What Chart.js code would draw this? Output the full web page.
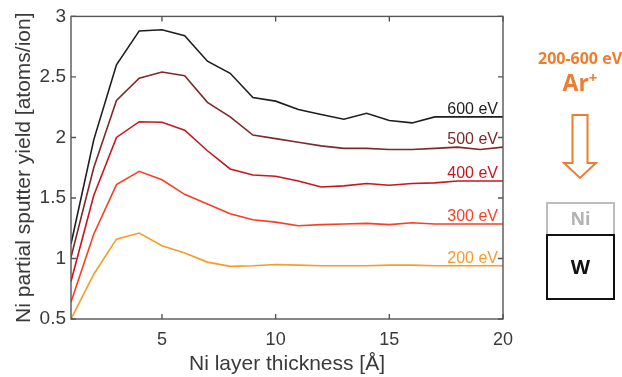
<!DOCTYPE html>
<html>
<head>
<meta charset="utf-8">
<script src="https://cdn.jsdelivr.net/npm/chart.js@4"></script>
<style>
  html, body { margin: 0; padding: 0; background: #ffffff; }
  #c { display: block; }
</style>
</head>
<body>
<canvas id="c" width="622" height="377"></canvas>
<script>
// Ni layer thickness (Å) and partial sputter yield (atoms/ion) per Ar+ energy
const thickness = [1, 2, 3, 4, 5, 6, 7, 8, 9, 10, 11, 12, 13, 14, 15, 16, 17, 18, 19, 20];
const yield600 = [1.12, 1.98, 2.60, 2.88, 2.89, 2.84, 2.63, 2.53, 2.33, 2.30, 2.23, 2.19, 2.15, 2.20, 2.14, 2.12, 2.17, 2.17, 2.17, 2.17];
const yield500 = [1.01, 1.75, 2.305, 2.49, 2.54, 2.51, 2.29, 2.17, 2.02, 1.99, 1.96, 1.93, 1.91, 1.91, 1.90, 1.90, 1.91, 1.92, 1.90, 1.92];
const yield400 = [0.81, 1.52, 2.00, 2.13, 2.125, 2.06, 1.89, 1.74, 1.69, 1.68, 1.64, 1.59, 1.60, 1.62, 1.605, 1.62, 1.625, 1.64, 1.64, 1.64];
const yield300 = [0.64, 1.20, 1.61, 1.72, 1.65, 1.53, 1.45, 1.37, 1.32, 1.30, 1.27, 1.28, 1.285, 1.29, 1.28, 1.295, 1.285, 1.285, 1.285, 1.285];
const yield200 = [0.50, 0.87, 1.16, 1.21, 1.105, 1.045, 0.97, 0.935, 0.94, 0.95, 0.945, 0.94, 0.94, 0.94, 0.945, 0.945, 0.94, 0.94, 0.94, 0.94];
const energyLabels = ['600 eV', '500 eV', '400 eV', '300 eV', '200 eV'];
const xTickValues = [5, 10, 15, 20];
const yTickValues = [0.5, 1, 1.5, 2, 2.5, 3];

const FONT = "'Liberation Sans', Arial, Helvetica, sans-serif";
const SKETCH_FONT = "'Open Sans', Lato, sans-serif";
const AXIS_COLOR = '#555555';
const TEXT_COLOR = '#3a3a3a';

const series = [yield600, yield500, yield400, yield300, yield200];
const colors = ['#1e1e1e', '#7d2a2a', '#c8161e', '#fb3e22', '#fb9a25'];

const datasets = series.map((vals, i) => ({
  label: energyLabels[i],
  data: thickness.map((t, k) => ({ x: t, y: vals[k] })),
  borderColor: colors[i],
  backgroundColor: colors[i],
  borderWidth: 1.6,
  pointRadius: 0,
  tension: 0,
  fill: false
}));

// Box frame with inward ticks on all four sides, plus end-of-line energy labels
const framePlugin = {
  id: 'frame',
  afterDatasetsDraw(chart) {
    const { ctx, chartArea: a, scales } = chart;
    const xs = scales.x, ys = scales.y;
    ctx.save();
    ctx.strokeStyle = AXIS_COLOR;
    ctx.lineWidth = 1.4;
    ctx.strokeRect(a.left, a.top, a.right - a.left, a.bottom - a.top);
    const tl = 5;
    ctx.beginPath();
    xTickValues.forEach(v => {
      const px = xs.getPixelForValue(v);
      ctx.moveTo(px, a.bottom); ctx.lineTo(px, a.bottom - tl);
      ctx.moveTo(px, a.top); ctx.lineTo(px, a.top + tl);
    });
    yTickValues.forEach(v => {
      const py = ys.getPixelForValue(v);
      ctx.moveTo(a.left, py); ctx.lineTo(a.left + tl, py);
      ctx.moveTo(a.right, py); ctx.lineTo(a.right - tl, py);
    });
    ctx.stroke();

    // energy labels just above each curve's right end
    ctx.font = '16px ' + FONT;
    ctx.textAlign = 'right';
    ctx.textBaseline = 'alphabetic';
    chart.data.datasets.forEach((ds, i) => {
      const last = ds.data[ds.data.length - 1];
      ctx.fillStyle = colors[i];
      ctx.fillText(ds.label, a.right - 5, ys.getPixelForValue(last.y) - 3);
    });
    ctx.restore();
  },
  afterDraw(chart) {
    // ion beam and Ni/W stack sketch on the right
    const ctx = chart.ctx;
    const orange = '#ed7d31';
    ctx.save();
    ctx.fillStyle = orange;
    ctx.textAlign = 'center';
    ctx.textBaseline = 'middle';
    ctx.font = 'bold 16px ' + SKETCH_FONT;
    ctx.fillText('200-600 eV', 580, 59);
    ctx.textAlign = 'left';
    ctx.textBaseline = 'alphabetic';
    ctx.font = 'bold 23px ' + SKETCH_FONT;
    const arW = ctx.measureText('Ar').width;
    ctx.font = 'bold 15px ' + SKETCH_FONT;
    const plusW = ctx.measureText('+').width;
    const arX = 580 - (arW + plusW) / 2;
    ctx.font = 'bold 23px ' + SKETCH_FONT;
    ctx.fillText('Ar', arX, 91);
    ctx.font = 'bold 15px ' + SKETCH_FONT;
    ctx.fillText('+', arX + arW, 83);

    // hollow arrow pointing down
    ctx.strokeStyle = orange;
    ctx.lineWidth = 2;
    ctx.lineJoin = 'miter';
    ctx.beginPath();
    ctx.moveTo(572.5, 115);
    ctx.lineTo(587.5, 115);
    ctx.lineTo(587.5, 163);
    ctx.lineTo(596, 163);
    ctx.lineTo(580, 178);
    ctx.lineTo(564, 163);
    ctx.lineTo(572.5, 163);
    ctx.closePath();
    ctx.stroke();

    // Ni layer
    ctx.textAlign = 'center';
    ctx.textBaseline = 'middle';
    ctx.strokeStyle = '#bdbdbd';
    ctx.lineWidth = 2;
    ctx.strokeRect(547, 203, 67, 32);
    ctx.fillStyle = '#b3b3b3';
    ctx.font = 'bold 18px ' + SKETCH_FONT;
    ctx.fillText('Ni', 580.5, 220);
    // W substrate
    ctx.strokeStyle = '#111111';
    ctx.strokeRect(547, 235, 67, 64);
    ctx.fillStyle = '#111111';
    ctx.font = 'bold 20px ' + SKETCH_FONT;
    ctx.fillText('W', 580.5, 268);
    ctx.restore();
  }
};

new Chart(document.getElementById('c'), {
  type: 'line',
  data: { datasets },
  options: {
    responsive: false,
    devicePixelRatio: 1,
    animation: false,
    layout: { padding: { top: 14, right: 119, left: 12, bottom: 0 } },
    plugins: { legend: { display: false }, tooltip: { enabled: false } },
    scales: {
      x: {
        type: 'linear',
        min: 1,
        max: 20,
        afterBuildTicks: s => { s.ticks = xTickValues.map(v => ({ value: v })); },
        afterFit: s => { s.height = 58; },
        grid: { display: false, drawTicks: false },
        border: { display: false },
        ticks: { padding: 10, color: TEXT_COLOR, font: { family: FONT, size: 18 }, maxRotation: 0 },
        title: { display: true, text: 'Ni layer thickness [Å]', color: TEXT_COLOR, font: { family: FONT, size: 21 }, padding: { top: 0, bottom: 0 } }
      },
      y: {
        type: 'linear',
        min: 0.5,
        max: 3,
        afterBuildTicks: s => { s.ticks = yTickValues.map(v => ({ value: v })); },
        afterFit: s => { s.width = 59; },
        grid: { display: false, drawTicks: false },
        border: { display: false },
        ticks: {
          padding: 5,
          color: TEXT_COLOR,
          font: { family: FONT, size: 19 },
          callback: v => String(Number(v.toFixed(1)))
        },
        title: { display: true, text: 'Ni partial sputter yield [atoms/ion]', color: TEXT_COLOR, font: { family: FONT, size: 21 }, padding: { top: 0, bottom: 0 } }
      }
    }
  },
  plugins: [framePlugin]
});
</script>
</body>
</html>
